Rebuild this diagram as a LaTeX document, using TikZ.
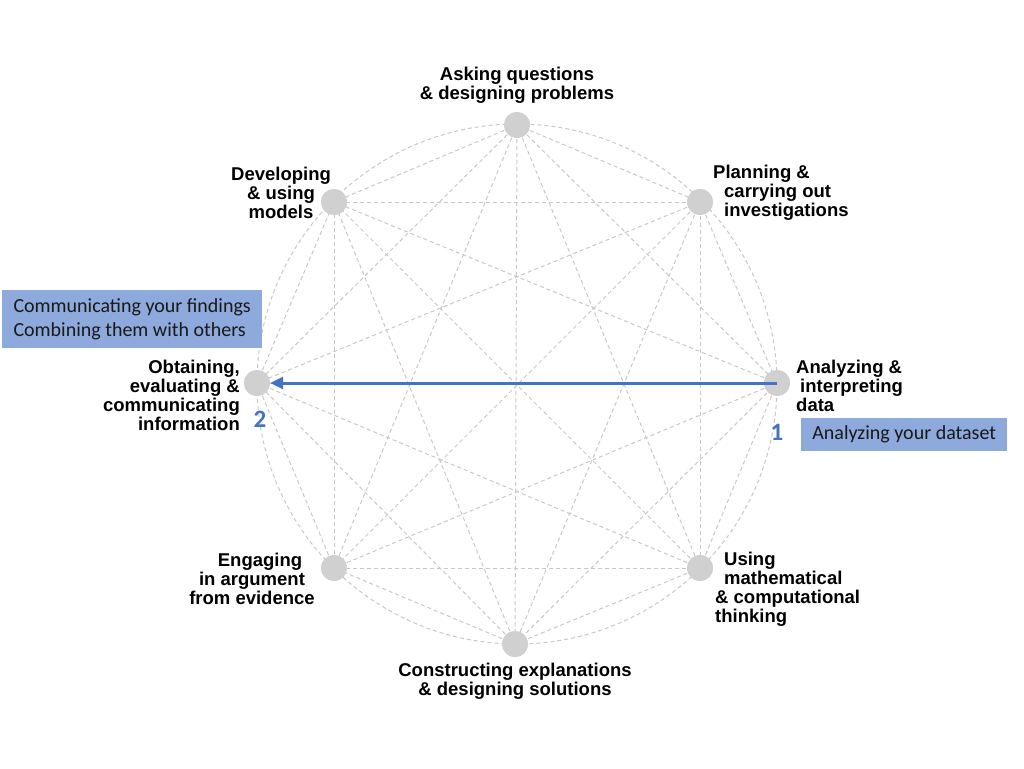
\documentclass[tikz,border=0pt]{standalone}
\usepackage{fontspec}
\setmainfont{Liberation Sans}
\newfontfamily\calib{Carlito}
\usetikzlibrary{arrows.meta}
\definecolor{edgegray}{HTML}{C8C8C8}
\definecolor{dotgray}{HTML}{D0D0D0}
\definecolor{boxblue}{HTML}{8EA9DB}
\definecolor{arrowblue}{HTML}{4472C4}
\tikzset{
  link/.style={draw=edgegray, line width=1pt, dash pattern=on 4pt off 3pt},
  dot/.style={circle, fill=dotgray, minimum size=26pt, inner sep=0pt},
  lbl/.style={font=\bfseries\fontsize{18.5}{19}\selectfont, inner sep=0pt, text=black},
  note/.style={fill=boxblue, font=\calib\fontsize{20}{24}\selectfont, align=left, text=black!90, inner sep=0pt},
  num/.style={font=\calib\bfseries\fontsize{25}{26}\selectfont, text=arrowblue, inner sep=0pt},
  flow/.style={draw=arrowblue, line width=3pt, -{Triangle[length=13pt,width=12pt]}}
}
\begin{document}
\begin{tikzpicture}[x=1pt,y=-1pt]
\useasboundingbox (0,0) rectangle (1024,768);
% nodes on the circle
\node[dot] (n1) at (517,125) {};
\node[dot] (n2) at (700,202) {};
\node[dot] (n3) at (777,383) {};
\node[dot] (n4) at (700,568) {};
\node[dot] (n5) at (515,644) {};
\node[dot] (n6) at (334,568) {};
\node[dot] (n7) at (257,383) {};
\node[dot] (n8) at (334,202) {};
% circle and complete graph
\draw[link] (517,384) circle (260);
\foreach \a in {1,...,8}{
  \foreach \b in {1,...,8}{
    \ifnum\a<\b
      \draw[link] (n\a.center) -- (n\b.center);
    \fi
  }
}
% redraw dots on top
\foreach \p in {n1,n2,n3,n4,n5,n6,n7,n8}{
  \fill[dotgray] (\p.center) circle (13);
}
% arrow
\draw[flow] (n3.center) -- (n7.east);
% labels
\node[lbl, align=center] (l1) at (517,85) {Asking questions\\\& designing problems};
\node[lbl, align=center] (l8) at (281,193) {Developing\\\& using\\models};
\node[lbl, align=left, anchor=west] (l2) at (713,193) {Planning \&\\\hspace*{11pt}carrying out\\\hspace*{11pt}investigations};
\node[lbl, align=right, anchor=east] (l7) at (240,395) {Obtaining,\\evaluating \&\hspace*{6pt}\\communicating\\information};
\node[lbl, align=left, anchor=west] (l3) at (796,386) {Analyzing \&\\\hspace*{4pt}interpreting\\data};
\node[lbl, align=center] (l6) at (252,579) {\hspace*{16pt}Engaging\\in argument\\from evidence};
\node[lbl, align=left, anchor=west] (l4) at (715,589) {\hspace*{9pt}Using\\\hspace*{9pt}mathematical\\\& computational\\thinking};
\node[lbl, align=center] (l5) at (515,681) {Constructing explanations\\\& designing solutions};
% notes
\node[note, minimum width=260pt, minimum height=58pt, anchor=north west] (b2) at (2,290) {Communicating your findings\\Combining them with others};
\node[note, minimum width=206pt, minimum height=33pt, anchor=north west] (b1) at (801,418) {Analyzing your dataset};
% numbers
\node[num] (k2) at (260,419) {2};
\node[num] (k1) at (777,432) {1};
\end{tikzpicture}
\end{document}
